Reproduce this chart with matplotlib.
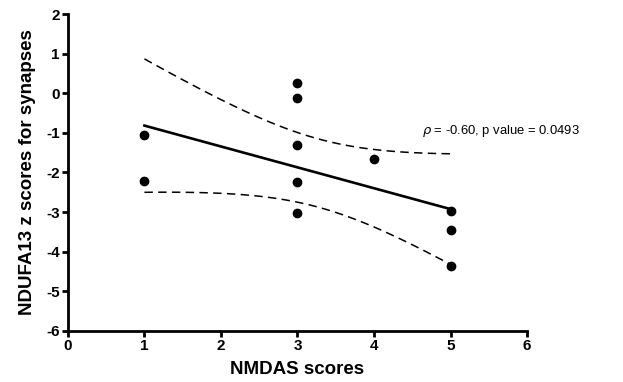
import matplotlib
matplotlib.use("Agg")
import matplotlib.pyplot as plt
import numpy as np

plt.rcParams["font.family"] = ["Liberation Sans", "DejaVu Sans"]
plt.rcParams["axes.unicode_minus"] = False

# NMDAS scores vs NDUFA13 z scores
nmdas = [1, 1, 3, 3, 3, 3, 3, 4, 5, 5, 5]
ndufa13 = [-1.06, -2.22, 0.27, -0.11, -1.31, -2.24, -3.03, -1.67, -2.97, -3.45, -4.37]
annotation = "$\\rho$ = -0.60, p value = 0.0493"

x = np.array(nmdas, dtype=float)
y = np.array(ndufa13)
n = len(x)
slope, intercept = np.polyfit(x, y, 1)
resid = y - (slope * x + intercept)
s = np.sqrt(np.sum(resid ** 2) / (n - 2))
sxx = np.sum((x - x.mean()) ** 2)
t_crit = 2.262  # t(0.975, df=9)

x_fit = np.linspace(x.min(), x.max(), 100)
y_fit = slope * x_fit + intercept
half = t_crit * s * np.sqrt(1 / n + (x_fit - x.mean()) ** 2 / sxx)

fig = plt.figure(figsize=(6.23, 3.82), dpi=100)
ax = fig.add_axes([0.109, 0.134, 0.737, 0.829])

ax.plot(x_fit, y_fit, color="black", linewidth=1.9)
ax.plot(x_fit, y_fit + half, color="black", linewidth=1.1, linestyle=(0, (5.5, 3.5)))
ax.plot(x_fit, y_fit - half, color="black", linewidth=1.1, linestyle=(0, (5.5, 3.5)))
ax.plot(x, y, "o", color="black", markersize=6, clip_on=False)

ax.text(4.63, -0.95, annotation, fontsize=9.4, va="center", ha="left")

ax.set_xlim(0, 6)
ax.set_ylim(-6, 2)
ax.set_xticks(range(0, 7))
ax.set_yticks(range(-6, 3))
ax.spines["top"].set_visible(False)
ax.spines["right"].set_visible(False)
ax.spines["left"].set_linewidth(2)
ax.spines["bottom"].set_linewidth(2)
ax.tick_params(width=2, length=4, direction="out", labelsize=11, pad=2)
for lbl in ax.get_xticklabels() + ax.get_yticklabels():
    lbl.set_fontweight("bold")

ax.set_xlabel("NMDAS scores", fontsize=13.5, fontweight="bold", labelpad=6)
ax.set_ylabel("NDUFA13 z scores for synapses", fontsize=13.5, fontweight="bold", labelpad=7)

fig.savefig("out.png", dpi=100)
